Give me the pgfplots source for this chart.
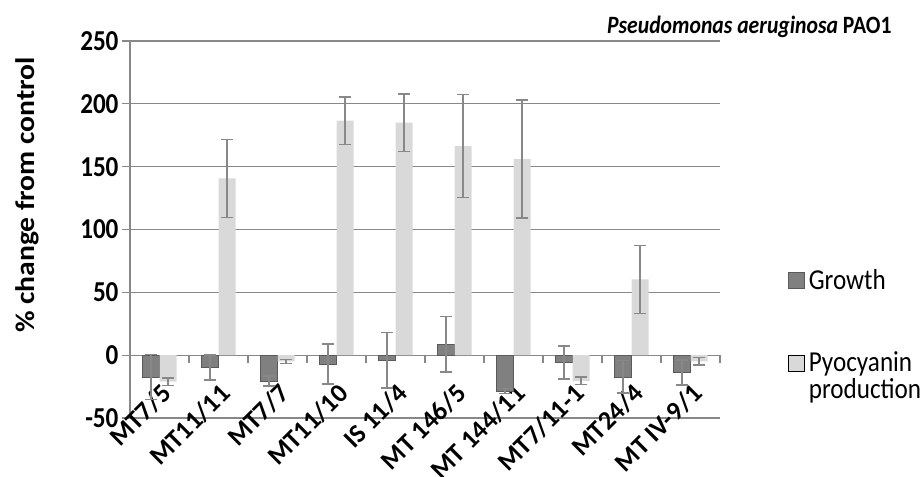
\documentclass[border=0pt]{standalone}
\usepackage{fontspec}
\setmainfont{Carlito}
\newfontfamily\tallfont[FakeStretch=0.87]{Carlito}
\newfontfamily\widefont[FakeStretch=1.1]{Carlito}
\usepackage{pgfplots}
\usepackage{pgfplotstable}
\pgfplotsset{compat=1.18}

\definecolor{growth}{HTML}{808080}
\definecolor{growthedge}{HTML}{5A5A5A}
\definecolor{pyo}{HTML}{D9D9D9}
\definecolor{gridgray}{HTML}{888888}

% x: category index, growth/pyo: % change, gerr/perr: error
\pgfplotstableread{
x growth gerr pyo perr
0 -17.3 18 -21.0 3
1 -9.8 10 140.7 31
2 -20.5 4 -5.0 1.5
3 -7.0 16 186.6 19
4 -4.0 22 185.0 23
5 8.8 22 166.4 41
6 -28.7 2 156.0 47
7 -5.8 13 -20.4 3
8 -17.3 13 60.3 27
9 -13.8 10 -5.0 3
}\data

\begin{document}
\begin{tikzpicture}
\path[use as bounding box] (0,0) rectangle (924bp,477bp);
\begin{axis}[
    at={(130bp,59bp)}, anchor=south west,
    scale only axis, width=590bp, height=377bp,
    clip=false,
    ybar=0pt, bar width=17bp,
    xmin=-0.5, xmax=9.5,
    ymin=-50, ymax=250,
    axis lines*=left,
    axis line style={gridgray, line width=1.2bp},
    xtick={0,...,9},
    xticklabels={MT7/5,MT11/11,MT7/7,MT11/10,IS 11/4,MT 146/5,MT 144/11,MT7/11-1,MT24/4,MT IV-9/1},
    x tick style={draw=none},
    xticklabel style={xshift=0bp, yshift=44bp, rotate=45, anchor=north east, inner sep=0pt,
        font=\fontsize{26.5}{31}\selectfont\bfseries},
    ytick={-50,0,50,100,150,200,250},
    yticklabels={-50,0,50,100,150,200,250},
    y tick style={gridgray, line width=1.2bp},
    tick align=outside, major tick length=8bp,
    ymajorgrids, grid style={gridgray, line width=1.2bp},
    yticklabel style={font=\tallfont\fontsize{29}{34}\selectfont\bfseries},
    legend image code/.code={\draw[#1] (0bp,-8bp) rectangle (16bp,8bp); \path (18bp,0bp);},
    legend style={draw=none, fill=none, inner sep=0pt, at={(1.115,0.40)}, anchor=north west,
        font=\tallfont\fontsize{29}{34}\selectfont, row sep=62bp, cells={anchor=west}},
]
\addplot[fill=growth, draw=growthedge, line width=0.8bp,
    error bars/.cd, y dir=both, y explicit,
    error bar style={gridgray, line width=1.5bp},
    error mark options={rotate=90, gridgray, mark size=6bp, line width=1.5bp}]
    table[x=x, y=growth, y error=gerr]{\data};
\addlegendentry{Growth}
\addplot[fill=pyo, draw=none,
    error bars/.cd, y dir=both, y explicit,
    error bar style={gridgray, line width=1.5bp},
    error mark options={rotate=90, gridgray, mark size=6bp, line width=1.5bp}]
    table[x=x, y=pyo, y error=perr]{\data};
\addlegendentry{\smash{\raisebox{-9bp}{\parbox[t]{140bp}{Pyocyanin\\[-7bp]production}}}}
\pgfplotsinvokeforeach{-0.5,0.5,1.5,2.5,3.5,4.5,5.5,6.5,7.5,8.5,9.5}{
  \draw[gridgray, line width=1.2bp] (axis cs:#1,0) -- ([yshift=-8bp]axis cs:#1,0);
}
\end{axis}
\node[rotate=90, font=\widefont\fontsize{27}{32}\selectfont\bfseries] at (27bp,282bp) {\% change from control};
\node[anchor=base east, font=\tallfont\fontsize{25}{30}\selectfont\bfseries] at (895bp,443bp) {\textit{Pseudomonas aeruginosa} PAO1};
\end{tikzpicture}
\end{document}
